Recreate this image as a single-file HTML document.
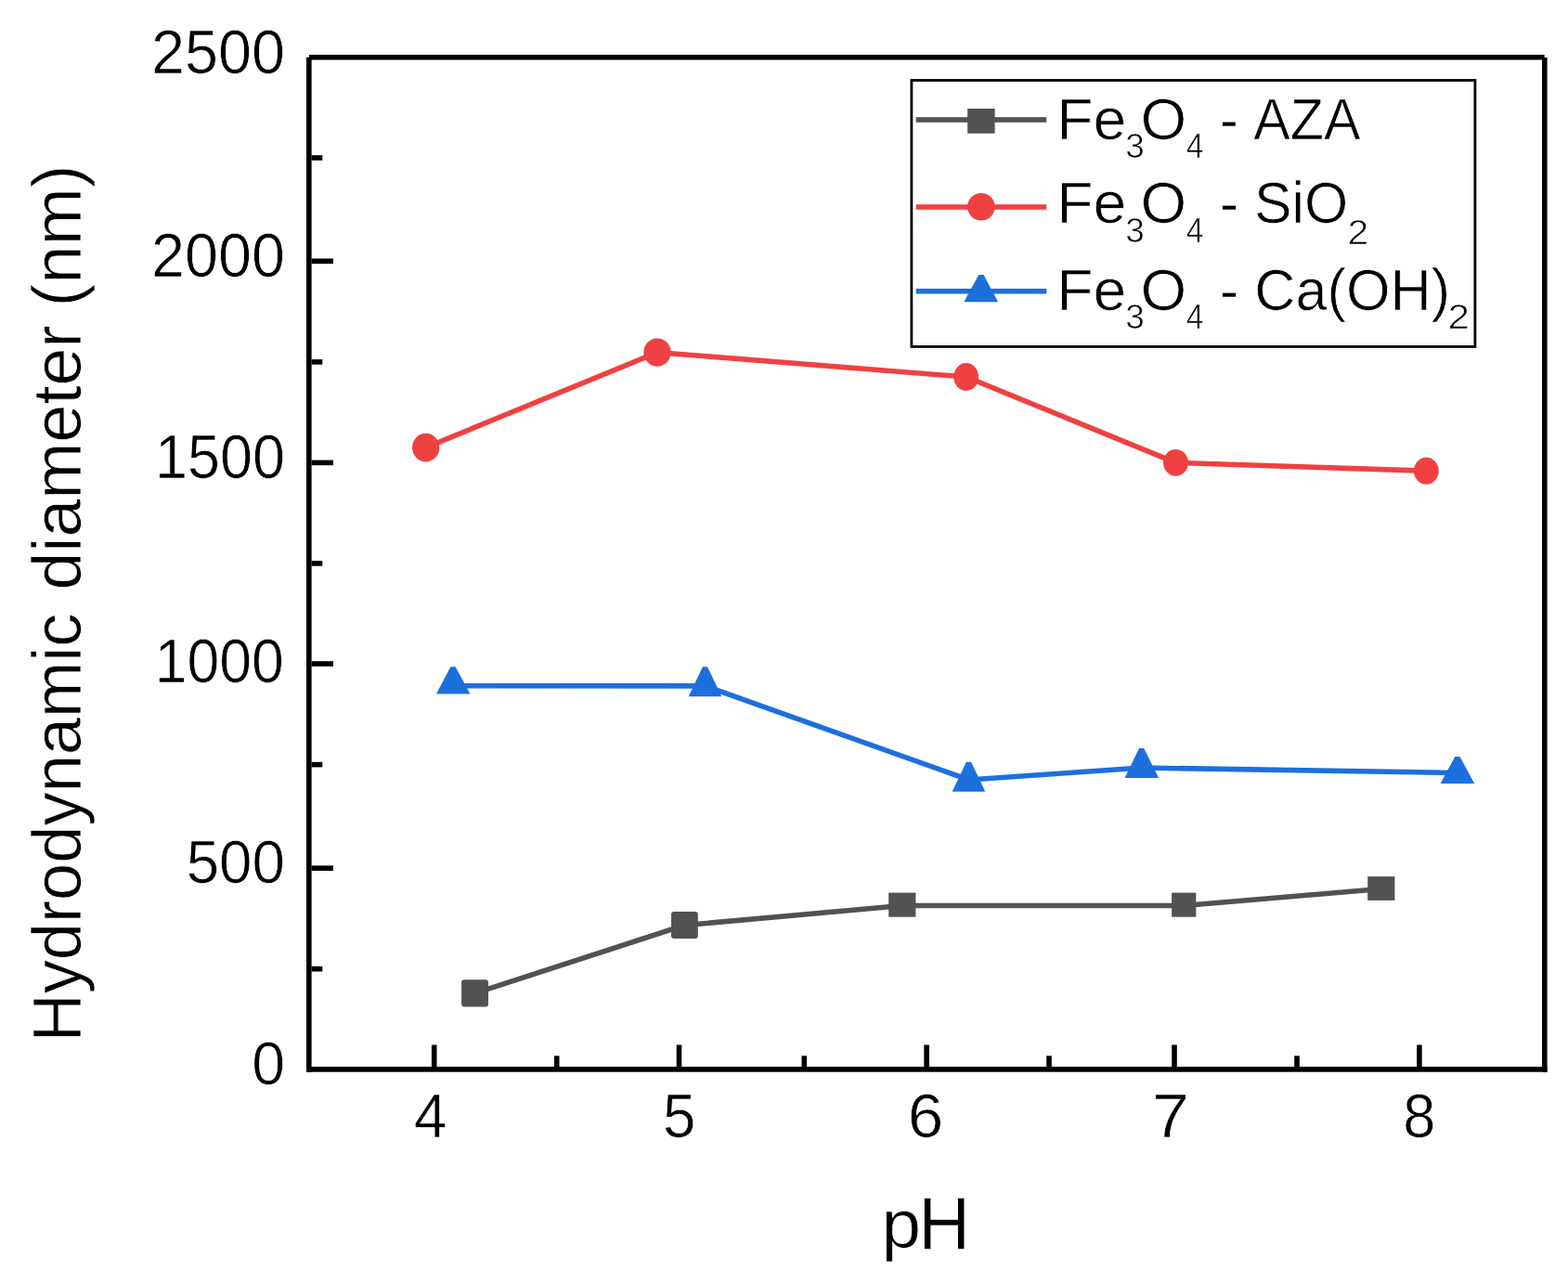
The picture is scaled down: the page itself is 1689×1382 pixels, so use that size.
<!DOCTYPE html>
<html><head><meta charset="utf-8"><title>Hydrodynamic diameter vs pH</title>
<style>html,body{margin:0;padding:0;background:#fff;overflow:hidden;width:1689px;height:1382px;}svg{display:block;}text{font-family:"Liberation Sans",Arial,sans-serif;fill:#000;stroke:#fff;stroke-width:0.7px;}</style></head><body>
<svg width="1689" height="1382" viewBox="0 0 1689 1382">
<rect x="0" y="0" width="1689" height="1382" fill="#fff"/>
<polyline points="511.6,1069.8 737.4,996.6 971.8,975.5 1275.2,975.5 1487.8,957.5" fill="none" stroke="#525252" stroke-width="5.6" stroke-linejoin="miter"/>
<polyline points="458.7,482.1 708,379.6 1040.7,406 1266.5,498.4 1536.3,507.2" fill="none" stroke="#ef4142" stroke-width="5.6" stroke-linejoin="miter"/>
<polyline points="488,738.8 759.5,738.9 1043.6,840 1229.8,827.0 1569.9,832.5" fill="none" stroke="#1d6fde" stroke-width="5.6" stroke-linejoin="miter"/>
<rect x="497.1" y="1055.2" width="28.9" height="29.2" rx="3" fill="#525252"/>
<rect x="723" y="982.1" width="28.8" height="28.9" rx="3" fill="#525252"/>
<rect x="957.2" y="961.6" width="29.2" height="26.1" fill="#525252"/>
<rect x="1262.1" y="961.6" width="26.2" height="26.1" fill="#525252"/>
<rect x="1473.2" y="944.1" width="29.2" height="25.8" fill="#525252"/>
<ellipse cx="458.7" cy="482.1" rx="14.65" ry="15.3" fill="#ef4142"/>
<ellipse cx="708" cy="379.6" rx="14.65" ry="15.2" fill="#ef4142"/>
<ellipse cx="1040.7" cy="406" rx="13.4" ry="15.0" fill="#ef4142"/>
<ellipse cx="1266.5" cy="498.4" rx="13.5" ry="14.4" fill="#ef4142"/>
<ellipse cx="1536.3" cy="507.2" rx="13.4" ry="14.5" fill="#ef4142"/>
<polygon points="485.4,718.2 490.6,718.2 506.5,747.5 469.9,747.5" fill="#1d6fde"/>
<polygon points="756.9,718.2 762.1,718.2 777.3,750.2 741.7,750.2" fill="#1d6fde"/>
<polygon points="1040.9,820.8 1046.1,820.8 1061.3,852.8 1025.7,852.8" fill="#1d6fde"/>
<polygon points="1227.0,806.1 1232.2,806.1 1248.1,838 1211.5,838" fill="#1d6fde"/>
<polygon points="1567.3,815 1572.5,815 1588.2,843.9 1551.5,843.9" fill="#1d6fde"/>
<rect x="330" y="61.7" width="5.60" height="1093.00" fill="#000"/>
<rect x="1661" y="61.9" width="5.60" height="1092.80" fill="#000"/>
<rect x="333" y="59" width="1330.60" height="5.50" fill="#000"/>
<rect x="330" y="1149" width="1336.60" height="5.70" fill="#000"/>
<rect x="464.9" y="1125.5" width="5.60" height="23.50" fill="#000"/>
<rect x="728.7" y="1125.5" width="5.60" height="23.50" fill="#000"/>
<rect x="995.3000000000001" y="1125.5" width="5.60" height="23.50" fill="#000"/>
<rect x="1262.2" y="1125.5" width="5.60" height="23.50" fill="#000"/>
<rect x="1526.1000000000001" y="1125.5" width="5.60" height="23.50" fill="#000"/>
<rect x="596.9000000000001" y="1137.3" width="5.60" height="11.70" fill="#000"/>
<rect x="863.5" y="1137.3" width="5.60" height="11.70" fill="#000"/>
<rect x="1127.2" y="1137.3" width="5.60" height="11.70" fill="#000"/>
<rect x="1394.2" y="1137.3" width="5.60" height="11.70" fill="#000"/>
<rect x="335.6" y="932.4000000000001" width="23.40" height="5.60" fill="#000"/>
<rect x="335.6" y="712.2" width="23.40" height="5.60" fill="#000"/>
<rect x="335.6" y="495.59999999999997" width="23.40" height="5.60" fill="#000"/>
<rect x="335.6" y="278.5" width="23.40" height="5.60" fill="#000"/>
<rect x="335.6" y="1040.9" width="11.70" height="5.60" fill="#000"/>
<rect x="335.6" y="820.8000000000001" width="11.70" height="5.60" fill="#000"/>
<rect x="335.6" y="604.1" width="11.70" height="5.60" fill="#000"/>
<rect x="335.6" y="387.09999999999997" width="11.70" height="5.60" fill="#000"/>
<rect x="335.6" y="167.2" width="11.70" height="5.60" fill="#000"/>
<text font-size="66.81" transform="matrix(0.9688,0,0,1,163.04,78.85)">2500</text>
<text font-size="65.96" transform="matrix(0.9813,0,0,1,163.04,298.46)">2000</text>
<text font-size="65.82" transform="matrix(0.9565,0,0,1,166.90,514.86)">1500</text>
<text font-size="65.96" transform="matrix(0.9494,0,0,1,166.63,735.06)">1000</text>
<text font-size="64.97" transform="matrix(0.9810,0,0,1,200.65,951.47)">500</text>
<text font-size="64.97" transform="matrix(0.9917,0,0,1,271.18,1168.47)">0</text>
<text font-size="66.50" transform="matrix(0.9669,0,0,1,445.82,1224.60)">4</text>
<text font-size="66.50" transform="matrix(0.9578,0,0,1,714.05,1224.60)">5</text>
<text font-size="66.50" transform="matrix(1.0429,0,0,1,977.78,1224.60)">6</text>
<text font-size="66.50" transform="matrix(1.0784,0,0,1,1241.12,1224.60)">7</text>
<text font-size="66.50" transform="matrix(0.9486,0,0,1,1511.16,1224.60)">8</text>
<text font-size="73.41" transform="matrix(1.0450,0,0,1,949.56,1344.27)">p</text>
<text font-size="80.09" transform="matrix(0.9679,0,0,1,989.14,1345.00)">H</text>
<text font-size="73.50" transform="matrix(0,-0.9838,1,0,86.60,1122.53)">Hydrodynamic</text>
<text font-size="73.50" transform="matrix(0,-0.9973,1,0,86.60,635.48)">diameter</text>
<text font-size="73.50" transform="matrix(0,-1.0145,1,0,86.60,330.62)">(nm)</text>
<rect x="981.9" y="86.5" width="607" height="286.9" fill="none" stroke="#000" stroke-width="2.8"/>
<rect x="986.7" y="126.2" width="140.50" height="5.60" fill="#525252"/>
<rect x="1042.2" y="117" width="29.40" height="26.70" fill="#525252"/>
<rect x="986.7" y="220.2" width="140.50" height="5.60" fill="#ef4142"/>
<circle cx="1056.9" cy="222.7" r="14.8" fill="#ef4142"/>
<rect x="986.7" y="310.9" width="140.50" height="5.60" fill="#1d6fde"/>
<polygon points="1054.3,296 1059.5,296 1075.1,325.3 1038.3,325.3" fill="#1d6fde"/>
<text font-size="63.00" transform="matrix(1.0205,0,0,1,1138.33,149.50)">Fe</text>
<text font-size="37.00" transform="matrix(0.9976,0,0,1,1212.29,169.60)">3</text>
<text font-size="63.00" transform="matrix(1.0138,0,0,1,1228.47,149.50)">O</text>
<text font-size="37.00" transform="matrix(0.9064,0,0,1,1277.63,169.60)">4</text>
<text font-size="63.00" transform="matrix(0.9419,0,0,1,1313.96,149.50)">- AZA</text>
<text font-size="63.00" transform="matrix(1.0205,0,0,1,1138.33,240.40)">Fe</text>
<text font-size="37.00" transform="matrix(0.9976,0,0,1,1212.29,260.50)">3</text>
<text font-size="63.00" transform="matrix(1.0138,0,0,1,1228.47,240.40)">O</text>
<text font-size="37.00" transform="matrix(0.9064,0,0,1,1277.63,260.50)">4</text>
<text font-size="63.00" transform="matrix(0.9645,0,0,1,1313.90,240.40)">- SiO</text>
<text font-size="37.00" transform="matrix(1.1035,0,0,1,1451.55,263.30)">2</text>
<text font-size="63.00" transform="matrix(1.0205,0,0,1,1138.33,333.90)">Fe</text>
<text font-size="37.00" transform="matrix(0.9976,0,0,1,1212.29,354.00)">3</text>
<text font-size="63.00" transform="matrix(1.0138,0,0,1,1228.47,333.90)">O</text>
<text font-size="37.00" transform="matrix(0.9064,0,0,1,1277.63,354.00)">4</text>
<text font-size="63.00" transform="matrix(0.9716,0,0,1,1313.88,333.90)">- Ca(OH)</text>
<text font-size="37.00" transform="matrix(1.1391,0,0,1,1559.58,354.30)">2</text>
</svg>
</body></html>
